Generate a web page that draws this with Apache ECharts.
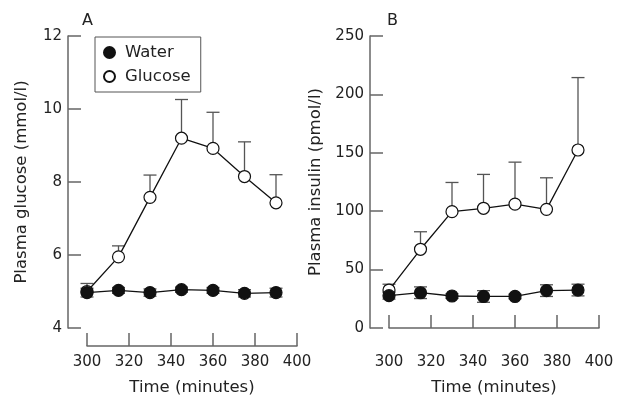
<!DOCTYPE html>
<html>
<head>
<meta charset="utf-8">
<script src="https://cdn.jsdelivr.net/npm/echarts@6/dist/echarts.min.js"></script>
<style>
  html, body { margin: 0; padding: 0; background: #fff; }
  #chart { width: 623px; height: 398px; }
</style>
</head>
<body>
<div id="chart"></div>
<script>
const times = [300, 315, 330, 345, 360, 375, 390]

// panel A: glucose (mmol/l)
const glucoseWater = [4.97, 5.03, 4.97, 5.05, 5.03, 4.95, 4.97]
const glucoseWaterErr = [0.12, 0.08, 0.1, 0.07, 0.08, 0.1, 0.12]
const glucoseGlucose = [5.0, 5.95, 7.58, 9.2, 8.92, 8.15, 7.43]
const glucoseGlucoseErr = [0.22, 0.3, 0.61, 1.06, 0.99, 0.95, 0.77]

// panel B: insulin (pmol/l)
const insulinWater = [27.7, 30.2, 27.4, 27.0, 27.0, 32.0, 32.5]
const insulinWaterErr = [3, 5, 2, 5, 2, 5, 5]
const insulinGlucose = [32.5, 67.4, 99.6, 102.5, 106, 101.6, 152.4]
const insulinGlucoseErr = [5, 15, 25, 29, 36, 27, 62]

const axisColor = '#666'
const textColor = '#222'
const font = 'DejaVu Sans'

function pairs(ys) {
  return times.map((t, i) => [t, ys[i]])
}

function errorSeries(ys, errs, both, idx) {
  return {
    type: 'custom',
    xAxisIndex: idx,
    yAxisIndex: idx,
    z: 1,
    silent: true,
    data: times.map((t, i) => [t, ys[i], errs[i]]),
    renderItem: function (params, api) {
      const x = api.value(0)
      const y = api.value(1)
      const e = api.value(2)
      const top = api.coord([x, y + e])
      const bot = api.coord([x, both ? y - e : y])
      const w = 6.5
      const children = [
        { type: 'line', shape: { x1: top[0], y1: top[1], x2: bot[0], y2: bot[1] } },
        { type: 'line', shape: { x1: top[0] - w, y1: top[1], x2: top[0] + w, y2: top[1] } }
      ]
      if (both) {
        children.push({ type: 'line', shape: { x1: bot[0] - w, y1: bot[1], x2: bot[0] + w, y2: bot[1] } })
      }
      return {
        type: 'group',
        children: children.map(c => Object.assign(c, { style: { stroke: '#555', lineWidth: 1.3 } }))
      }
    }
  }
}

function lineSeries(name, ys, filled, idx) {
  return {
    name: name,
    type: 'line',
    xAxisIndex: idx,
    yAxisIndex: idx,
    z: filled ? 4 : 3,
    symbol: 'circle',
    symbolSize: 12,
    showAllSymbol: true,
    lineStyle: { color: '#111', width: 1.3 },
    itemStyle: { color: filled ? '#111' : '#fff', borderColor: '#111', borderWidth: 1.2, opacity: 1 },
    data: pairs(ys)
  }
}

function xAxis(idx) {
  return {
    type: 'value',
    gridIndex: idx,
    min: 300,
    max: 400,
    interval: 20,
    offset: 18,
    name: 'Time (minutes)',
    nameLocation: 'middle',
    nameGap: 33,
    nameTextStyle: { fontFamily: font, fontSize: 16.5, color: textColor },
    axisLine: { show: true, lineStyle: { color: axisColor, width: 1.5 } },
    axisTick: { show: true, inside: true, length: 13, lineStyle: { color: axisColor, width: 1.5 } },
    axisLabel: { fontFamily: font, fontSize: 15, color: textColor, margin: 9 },
    splitLine: { show: false }
  }
}

function yAxis(idx, min, max, interval, name) {
  return {
    type: 'value',
    gridIndex: idx,
    min: min,
    max: max,
    interval: interval,
    offset: 19,
    name: name,
    nameLocation: 'middle',
    nameGap: idx === 0 ? 38 : 46,
    nameTextStyle: { fontFamily: font, fontSize: 16.5, color: textColor },
    axisLine: { show: true, lineStyle: { color: axisColor, width: 1.5 } },
    axisTick: { show: true, inside: true, length: 13, lineStyle: { color: axisColor, width: 1.5 } },
    axisLabel: { fontFamily: font, fontSize: 15, color: textColor, margin: 6 },
    splitLine: { show: false }
  }
}

const chart = echarts.init(document.getElementById('chart'), null, { renderer: 'canvas' })

const option = {
  backgroundColor: '#fff',
  animation: false,
  title: [
    { text: 'A', left: 82, top: 13, padding: 0, textStyle: { fontFamily: font, fontSize: 16, fontWeight: 'normal', color: textColor } },
    { text: 'B', left: 387, top: 13, padding: 0, textStyle: { fontFamily: font, fontSize: 16, fontWeight: 'normal', color: textColor } }
  ],
  legend: {
    data: [
      { name: 'Water', icon: 'circle' },
      { name: 'Glucose', icon: 'circle' }
    ],
    orient: 'vertical',
    left: 95,
    top: 37,
    borderColor: '#555',
    borderWidth: 1,
    padding: [7, 10, 7, 8],
    itemGap: 7,
    itemWidth: 11,
    itemHeight: 11,
    textStyle: { fontFamily: font, fontSize: 16.5, color: textColor, padding: [0, 0, 0, 5] },
    backgroundColor: '#fff',
    z: 10
  },
  grid: [
    { left: 87, top: 36, width: 210, height: 292, outerBoundsMode: 'none' },
    { left: 389, top: 36, width: 210, height: 292, outerBoundsMode: 'none' }
  ],
  xAxis: [xAxis(0), xAxis(1)],
  yAxis: [
    yAxis(0, 4, 12, 2, 'Plasma glucose (mmol/l)'),
    yAxis(1, 0, 250, 50, 'Plasma insulin (pmol/l)')
  ],
  series: [
    errorSeries(glucoseGlucose, glucoseGlucoseErr, false, 0),
    errorSeries(glucoseWater, glucoseWaterErr, true, 0),
    lineSeries('Glucose', glucoseGlucose, false, 0),
    lineSeries('Water', glucoseWater, true, 0),
    errorSeries(insulinGlucose, insulinGlucoseErr, false, 1),
    errorSeries(insulinWater, insulinWaterErr, true, 1),
    lineSeries('Glucose', insulinGlucose, false, 1),
    lineSeries('Water', insulinWater, true, 1)
  ]
}

chart.setOption(option)
</script>
</body>
</html>
